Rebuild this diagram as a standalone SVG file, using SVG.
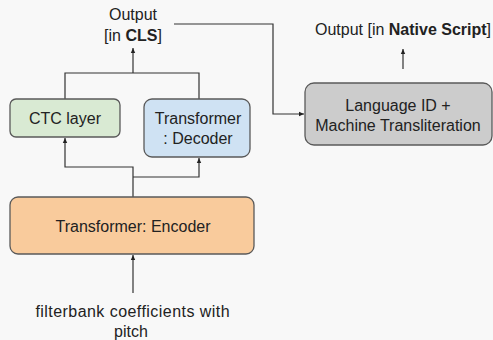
<svg xmlns="http://www.w3.org/2000/svg" width="493" height="340" viewBox="0 0 493 340">
<style>
text{font-family:"Liberation Sans",Arial,sans-serif;font-size:16px;fill:#222;text-anchor:middle}
.b{font-weight:bold}
.sp{letter-spacing:0.45px;font-variant-ligatures:none}
.box{stroke:#595959;stroke-width:1.3}
.ln{fill:none;stroke:#333;stroke-width:1.2}
</style>
<defs>
<marker id="ah" markerWidth="6" markerHeight="6" refX="5" refY="3" orient="auto" markerUnits="userSpaceOnUse">
<path d="M0,0.8 L5,3 L0,5.2 Z" fill="#222"/>
</marker>
</defs>
<rect width="493" height="340" fill="#f8f8f8"/>
<g id="connectors">
<path class="ln" d="M133,198 V167 H65 V138" marker-end="url(#ah)"/>
<path class="ln" d="M133,177 H199 V158" marker-end="url(#ah)"/>
<path class="ln" d="M65,99 V73 H199 V99"/>
<path class="ln" d="M133,73 V48" marker-end="url(#ah)"/>
<path class="ln" d="M174,24 H273 V114 H304" marker-end="url(#ah)"/>
<path class="ln" d="M133,293 V255" marker-end="url(#ah)"/>
<path class="ln" d="M403,69 V49" marker-end="url(#ah)"/>
</g>
<g id="output-cls">
<text x="133" y="20">Output</text>
<text x="133" y="41">[in <tspan class="b">CLS</tspan>]</text>
</g>
<g id="output-native">
<text x="403" y="35">Output [in <tspan class="b">Native Script</tspan>]</text>
</g>
<g id="ctc">
<rect class="box" x="10" y="99" width="110" height="38" rx="6" fill="#d9ead3"/>
<text x="65" y="124">CTC layer</text>
</g>
<g id="decoder">
<rect class="box" x="144" y="99" width="106" height="58" rx="8" fill="#cfe2f3"/>
<text x="198" y="124">Transformer</text>
<text x="198" y="144">: Decoder</text>
</g>
<g id="encoder">
<rect class="box" x="10" y="197" width="244" height="57" rx="8" fill="#f9cb9c"/>
<text x="133" y="232">Transformer: Encoder</text>
</g>
<g id="langid">
<rect class="box" x="305" y="83" width="187" height="62" rx="9" fill="#cccccc"/>
<text x="398" y="111">Language ID +</text>
<text x="398" y="131">Machine Transliteration</text>
</g>
<g id="input">
<text class="sp" x="132.7" y="317">filterbank coefficients with</text>
<text x="131" y="337">pitch</text>
</g>
</svg>
